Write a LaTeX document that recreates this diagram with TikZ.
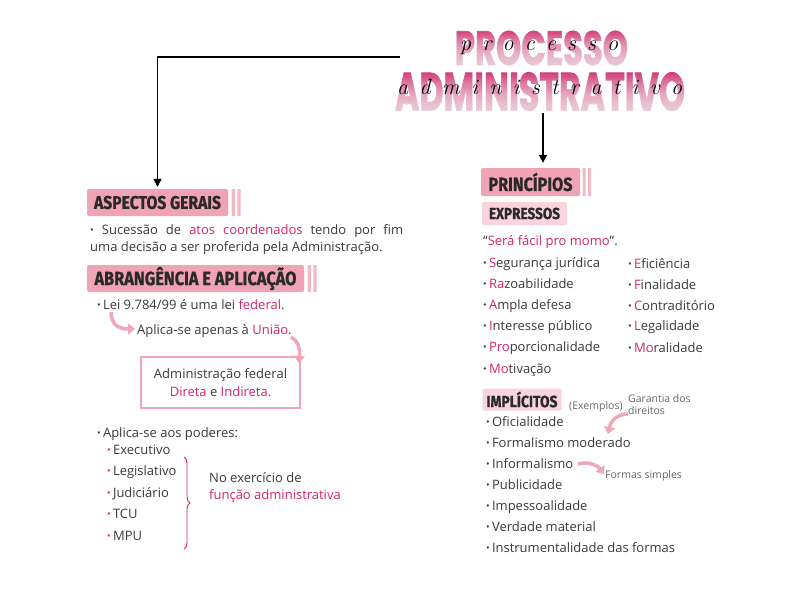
\documentclass[tikz,border=0pt]{standalone}
\usepackage{fontspec}
\usepackage{graphicx}
\usetikzlibrary{arrows.meta,decorations.pathreplacing}
\newfontfamily\bodyf{Open Sans}
\newfontfamily\headf{Fira Sans}[FakeStretch=0.85,BoldFeatures={FakeBold=0.8}]
\newfontfamily\titlef{Poppins}[BoldFeatures={FakeBold=1.5}]
\definecolor{hpink}{HTML}{F0A3B6}
\definecolor{barpink}{HTML}{F4B9C7}
\definecolor{lpink}{HTML}{F9D3DD}
\definecolor{mag}{HTML}{D6246E}
\definecolor{txt}{HTML}{3A3A3A}
\definecolor{htxt}{HTML}{2A2A2A}
\definecolor{arrpink}{HTML}{F2A6B9}
\definecolor{tdark}{HTML}{D0306F}
\definecolor{smallgray}{HTML}{666666}
\newcommand\mg[1]{\textcolor{mag}{#1}}
\newcommand\bul{\raisebox{0.3pt}{\scalebox{0.75}{\textbullet}}}
% nested white layers (each from a lower start to the same bottom): x0, x1, y0, y1, number of layers
\newcommand\fadelayers[5]{%
  \foreach \k in {1,...,#5}{%
    \pgfmathsetmacro\ya{#3+(#4-#3)*\k/(#5+1)}%
    \fill[white, fill opacity=0.045] (#1,\ya) rectangle (#2,#4);
  }%
}
\tikzset{
  hbox/.style={fill=hpink, rounded corners=2pt, inner sep=0, text=htxt},
  lbox/.style={fill=lpink, rounded corners=2pt, inner sep=0, text=htxt},
  body/.style={font=\bodyf\fontsize{13}{17}\selectfont, text=txt, inner sep=0, anchor=base west},
  small/.style={font=\bodyf\fontsize{10.5}{12}\selectfont, text=smallgray, inner sep=0, anchor=base west},
  conn/.style={draw=black, line width=1.5pt, -{Triangle[length=8pt,width=8pt]}},
  parrow/.style={draw=arrpink, line width=3.5pt, -{Triangle[length=7pt,width=11pt]}},
  scriptw/.style={inner sep=0, anchor=base west, font=\rmfamily\itshape\fontsize{22}{22}\selectfont, text=black},
  titlew/.style={inner sep=0, text=tdark},
}
\begin{document}
\begin{tikzpicture}[x=1pt,y=-1pt]
\useasboundingbox (0,0) rectangle (803,597);
\fill[white] (0,0) rectangle (803,597);

% ---------- title ----------
\node[titlew] (t1) at (541.5,48) {\resizebox{173pt}{34pt}{\titlef\bfseries PROCESSO}};
\node[titlew] (t2) at (540,91.5) {\resizebox{290pt}{38pt}{\titlef\bfseries ADMINISTRATIVO}};
\fadelayers{450}{634}{29}{67}{36}
\fadelayers{390}{692}{71}{112}{36}
\node[scriptw] (s1) at (460,50) {\makebox[158pt][s]{p\hfill r\hfill o\hfill c\hfill e\hfill s\hfill s\hfill o}};
\node[scriptw] (s2) at (397,94) {\makebox[285pt][s]{a\hfill d\hfill m\hfill i\hfill n\hfill i\hfill s\hfill t\hfill r\hfill a\hfill t\hfill i\hfill v\hfill o}};

% ---------- headings ----------
\node[hbox, minimum width=141pt, minimum height=27pt] (asp) at (157.5,202.5) {\resizebox{127pt}{!}{\headf\bfseries ASPECTOS GERAIS}};
\fill[barpink] (231.5,189) rectangle (235,216) (237.3,189) rectangle (240.7,216);

\node[hbox, minimum width=217pt, minimum height=27pt] (abr) at (195.5,278.5) {\resizebox{202pt}{!}{\headf\bfseries ABRANGÊNCIA E APLICAÇÃO}};
\fill[barpink] (307.5,265) rectangle (311,292) (313.3,265) rectangle (316.7,292);

\node[hbox, minimum width=99pt, minimum height=28pt] (prin) at (530.5,182) {\resizebox{84pt}{!}{\headf\bfseries PRINCÍPIOS}};
\fill[barpink] (582.7,168) rectangle (585.7,196) (588,168) rectangle (591,196);

\node[lbox, minimum width=85pt, minimum height=23pt] (exp) at (524.5,213.5) {\resizebox{71pt}{!}{\headf\bfseries EXPRESSOS}};
\node[lbox, minimum width=79pt, minimum height=22pt] (imp) at (522,399.5) {\resizebox{71pt}{!}{\headf\bfseries IMPLÍCITOS}};

% ---------- connectors ----------
\coordinate (lstart) at (400,57);
\draw[conn, shorten >=2pt] (lstart) -| (asp.north);
\draw[conn, shorten >=5pt, shorten <=2pt] ([xshift=3pt]t2.south) -- ([xshift=3pt]t2.south |- prin.north);

% ---------- left column ----------
\node[body, text width=313pt, align=justify] (p1) at (90,234) {\bul\ Sucessão de \mg{atos coordenados} tendo por fim\linebreak uma decisão a ser proferida pela Administração.};

\node[body] (lei) at (97,309) {\bul\,Lei 9.784/99 é uma lei \mg{federal}.};
\node[body] (uni) at (137,334) {Aplica-se apenas à \mg{União}.};
\node[draw=arrpink, line width=1.2pt, minimum width=159pt, minimum height=51pt, align=center, inner sep=0, font=\bodyf\fontsize{13}{18}\selectfont, text=txt] (adm) at (220.5,382.5) {Administração federal\\ \mg{Direta} e \mg{Indireta.}};

\draw[parrow] (111,312) .. controls (111,324) and (118,329) .. (135,329);
\draw[parrow] (291,337) .. controls (299,342) and (300,348) .. (299,363);

\node[body] (pod) at (97,437) {\bul\,Aplica-se aos poderes:};
\node[body] (e1) at (107,454) {\mg{\bul}\,Executivo};
\node[body] (e2) at (107,475) {\mg{\bul}\,Legislativo};
\node[body] (e3) at (107,497) {\mg{\bul}\,Judiciário};
\node[body] (e4) at (107,518) {\mg{\bul}\,TCU};
\node[body] (e5) at (107,540) {\mg{\bul}\,MPU};
\draw[mag, line width=0.9pt, decorate, decoration={brace, amplitude=6pt}] (184,457) -- (184,549);
\node[body, align=left] (noex) at (209,499) {No exercício de\\ \mg{função administrativa}};

% ---------- right column ----------
\node[body] (quo) at (483,245) {“\mg{Será fácil pro momo}”.};
\node[body] (r1) at (483,267) {\bul\,\mg{S}egurança jurídica};
\node[body] (r2) at (483,288) {\bul\,\mg{Ra}zoabilidade};
\node[body] (r3) at (483,309) {\bul\,\mg{A}mpla defesa};
\node[body] (r4) at (483,330) {\bul\,\mg{I}nteresse público};
\node[body] (r5) at (483,351) {\bul\,\mg{Pro}porcionalidade};
\node[body] (r6) at (483,373) {\bul\,\mg{Mo}tivação};
\node[body] (q1) at (628,268) {\bul\,\mg{E}ficiência};
\node[body] (q2) at (628,289) {\bul\,\mg{F}inalidade};
\node[body] (q3) at (628,310) {\bul\,\mg{C}ontraditório};
\node[body] (q4) at (628,330) {\bul\,\mg{L}egalidade};
\node[body] (q5) at (628,352) {\bul\,\mg{Mo}ralidade};

\node[small] (exe) at (569,409) {(Exemplos)};
\node[small, align=left] (gar) at (628,414) {Garantia dos\\direitos};
\node[body] (i1) at (486,426) {\bul\,Oficialidade};
\node[body] (i2) at (486,447) {\bul\,Formalismo moderado};
\node[body] (i3) at (486,468) {\bul\,Informalismo};
\node[body] (i4) at (486,489) {\bul\,Publicidade};
\node[body] (i5) at (486,510) {\bul\,Impessoalidade};
\node[body] (i6) at (486,531) {\bul\,Verdade material};
\node[body] (i7) at (486,552) {\bul\,Instrumentalidade das formas};
\node[small] (fs) at (605,478) {Formas simples};

\draw[parrow] (628,414) .. controls (618,414) and (611,420) .. (608,434);
\draw[parrow] (578,464) .. controls (590,461) and (598,466) .. (604,474);
\end{tikzpicture}
\end{document}
